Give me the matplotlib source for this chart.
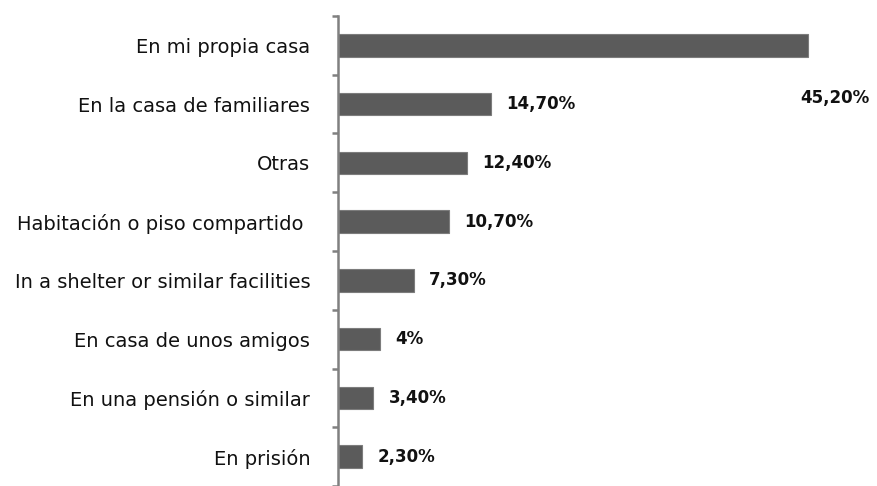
import numpy as np
import matplotlib
matplotlib.use("Agg")
import matplotlib.pyplot as plt

# categories, top to bottom, and their shares in percent
categories = ['En mi propia casa', 'En la casa de familiares', 'Otras',
              'Habitación o piso compartido ', 'In a shelter or similar facilities',
              'En casa de unos amigos', 'En una pensión o similar', 'En prisión']
values = [45.2, 14.7, 12.4, 10.7, 7.3, 4.0, 3.4, 2.3]
value_labels = ['45,20%', '14,70%', '12,40%', '10,70%', '7,30%', '4%', '3,40%', '2,30%']

fig = plt.figure(figsize=(8.77, 4.86), dpi=100)
ax = fig.add_axes([338 / 877, 0, 1 - 338 / 877, 1 - 16 / 486])

y = np.arange(len(categories))
ax.barh(y, values, height=0.38, color='#5b5b5b', edgecolor='#7c7c7c', linewidth=0.8)

ax.set_xlim(0, 51.8)
ax.set_ylim(7.43, -0.5)

# value labels; the first one sits below its bar, as in the original
for i, (v, lab) in enumerate(zip(values, value_labels)):
    if i == 0:
        ax.text(v - 0.8, i + 0.9, lab, fontsize=12, fontweight='bold',
                va='center', ha='left', color='#111111')
    else:
        ax.annotate(lab, (v, i), xytext=(11, 0), textcoords='offset points',
                    fontsize=12, fontweight='bold', va='center', ha='left', color='#111111')

ax.set_yticks(y)
ax.set_yticklabels(categories, fontsize=14, color='#111111')
ax.tick_params(axis='y', which='major', length=0, pad=20)
ax.set_yticks(np.arange(-0.5, len(categories), 1), minor=True)
ax.tick_params(axis='y', which='minor', length=4, width=1.8, color='#808080')
ax.set_xticks([])

for s in ['top', 'right', 'bottom']:
    ax.spines[s].set_visible(False)
ax.spines['left'].set_color('#808080')
ax.spines['left'].set_linewidth(1.8)

fig.savefig('out.png', dpi=100)
